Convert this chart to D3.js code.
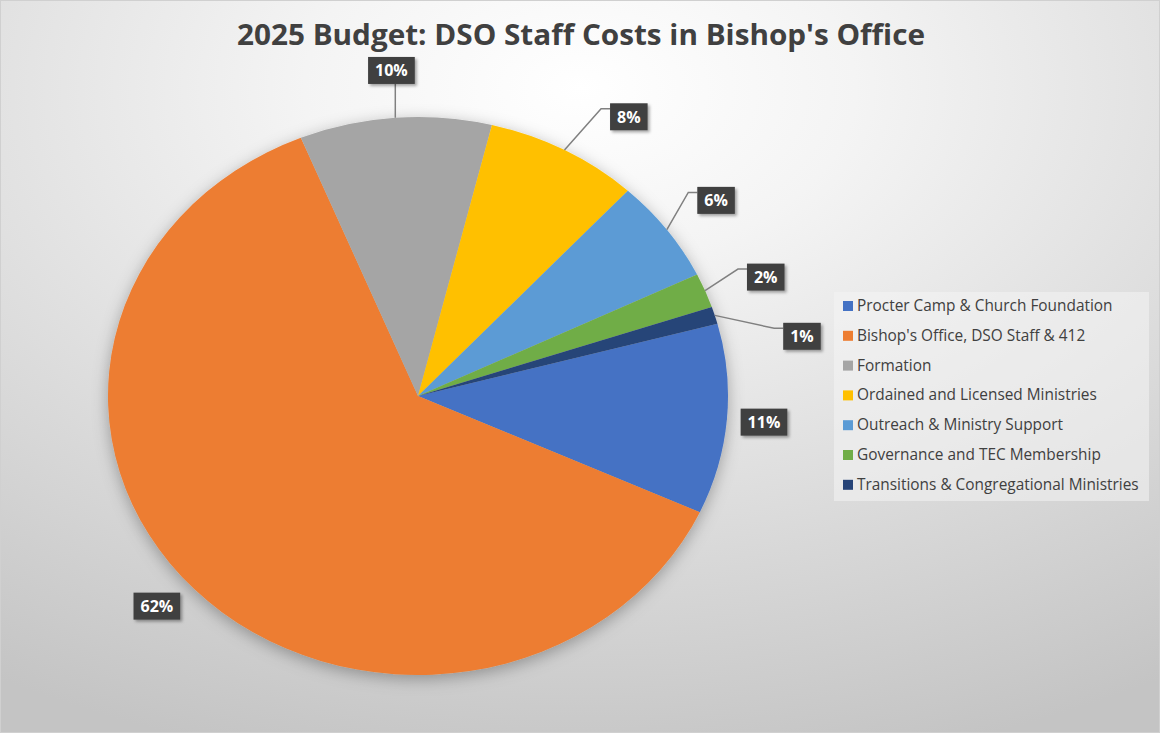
<!DOCTYPE html>
<html>
<head>
<meta charset="utf-8">
<script src="https://cdn.jsdelivr.net/npm/d3@7"></script>
<style>
  html, body { margin: 0; padding: 0; background: #fff; }
  svg { display: block; }
</style>
</head>
<body>
<div id="chart"></div>
<script>
// data
const categories = [
  "Procter Camp & Church Foundation",
  "Bishop's Office, DSO Staff & 412",
  "Formation",
  "Ordained and Licensed Ministries",
  "Outreach & Ministry Support",
  "Governance and TEC Membership",
  "Transitions & Congregational Ministries"
];
const shares = [11, 62, 10, 8, 6, 2, 1];
const colors = ["#4472C4", "#ED7D31", "#A5A5A5", "#FFC000", "#5B9BD5", "#70AD47", "#264478"];
const title = "2025 Budget: DSO Staff Costs in Bishop's Office";

// label placement: radius factor and angle nudge (degrees)
const labelLayout = [
  { f: 1.12, da: 0, leader: false },
  { f: 1.13, da: 2, leader: false },
  { f: 1.17, da: 0, leader: true },
  { f: 1.21, da: 6, leader: true },
  { f: 1.19, da: 0.5, leader: true },
  { f: 1.2, da: 1.4, leader: true },
  { f: 1.257, da: 7, leader: true }
];

const width = 1160, height = 733;
const cx = 418, cy = 396, rx = 310, ry = 279;

const svg = d3.select("#chart").append("svg")
  .attr("width", width)
  .attr("height", height);

const defs = svg.append("defs");
const grad = defs.append("radialGradient")
  .attr("id", "bg")
  .attr("cx", "50%").attr("cy", "12%").attr("r", "95%");
grad.append("stop").attr("offset", "0").attr("stop-color", "#ffffff");
grad.append("stop").attr("offset", "0.25").attr("stop-color", "#f4f4f4");
grad.append("stop").attr("offset", "1").attr("stop-color", "#c4c4c4");

const shadow = defs.append("filter").attr("id", "shadow")
  .attr("x", "-20%").attr("y", "-20%").attr("width", "140%").attr("height", "140%");
shadow.append("feDropShadow")
  .attr("dx", 0).attr("dy", 4).attr("stdDeviation", 8)
  .attr("flood-color", "#000").attr("flood-opacity", 0.3);

const boxShadow = defs.append("filter").attr("id", "boxShadow")
  .attr("x", "-30%").attr("y", "-30%").attr("width", "160%").attr("height", "160%");
boxShadow.append("feDropShadow")
  .attr("dx", 2).attr("dy", 2).attr("stdDeviation", 1.5)
  .attr("flood-color", "#000").attr("flood-opacity", 0.35);

svg.append("rect")
  .attr("x", 0.5).attr("y", 0.5)
  .attr("width", width - 1).attr("height", height - 1)
  .attr("fill", "url(#bg)")
  .attr("stroke", "#d0d0d0");

// title
svg.append("text")
  .attr("x", 581).attr("y", 45)
  .attr("text-anchor", "middle")
  .attr("font-family", "Open Sans, sans-serif")
  .attr("font-weight", "bold")
  .attr("font-size", 29)
  .attr("fill", "#404040")
  .attr("textLength", 688)
  .attr("lengthAdjust", "spacingAndGlyphs")
  .text(title);

// pie
const pie = d3.pie().sort(null).startAngle(75 * Math.PI / 180).endAngle(75 * Math.PI / 180 + 2 * Math.PI);
const arcs = pie(shares);
const arc = d3.arc().innerRadius(0).outerRadius(ry);

svg.append("g")
  .attr("filter", "url(#shadow)")
  .append("g")
  .attr("transform", `translate(${cx},${cy}) scale(${rx / ry},1)`)
  .selectAll("path")
  .data(arcs)
  .enter()
  .append("path")
  .attr("d", arc)
  .attr("fill", (d, i) => colors[i]);

// point on the ellipse
const pt = (a, f) => [cx + rx * f * Math.sin(a), cy - ry * f * Math.cos(a)];

const labels = svg.append("g");
arcs.forEach((d, i) => {
  const lay = labelLayout[i];
  const mid = (d.startAngle + d.endAngle) / 2;
  const [lx, ly] = pt(mid + lay.da * Math.PI / 180, lay.f);
  const g = labels.append("g");
  const t = g.append("text")
    .attr("x", lx).attr("y", ly + 6)
    .attr("text-anchor", "middle")
    .attr("font-family", "Open Sans, sans-serif")
    .attr("font-weight", "bold")
    .attr("font-size", 16)
    .attr("fill", "#fff")
    .text(shares[i] + "%");
  const tw = t.node().getComputedTextLength();
  const bw = tw + 14, bh = 27;
  const bx = lx - bw / 2, by = ly - bh / 2;
  g.insert("rect", "text")
    .attr("x", bx).attr("y", by)
    .attr("width", bw).attr("height", bh)
    .attr("fill", "#404040")
    .attr("filter", "url(#boxShadow)");

  if (lay.leader) {
    const [px, py] = pt(mid, 1.0);
    let pts;
    if (Math.abs(px - lx) < bw / 2) {
      pts = [[px, py], [px, by + bh]];
    } else {
      pts = [[px, py], [bx - 9, by + 5.5], [bx, by + 5.5]];
    }
    labels.insert("path", "g")
      .attr("d", d3.line()(pts))
      .attr("fill", "none")
      .attr("stroke", "#808080")
      .attr("stroke-width", 1.5);
  }
});

// legend
const legX = 834, legY = 292, rowH = 29.8;
const legend = svg.append("g");
legend.append("rect")
  .attr("x", legX).attr("y", legY)
  .attr("width", 315).attr("height", 209)
  .attr("fill", "#f4f4f4")
  .attr("opacity", 0.55);

const items = legend.selectAll("g.item")
  .data(categories)
  .enter()
  .append("g")
  .attr("class", "item")
  .attr("transform", (d, i) => `translate(${legX + 9},${legY + 14 + i * rowH})`);

items.append("rect")
  .attr("x", 0).attr("y", -5)
  .attr("width", 10).attr("height", 10)
  .attr("fill", (d, i) => colors[i]);

items.append("text")
  .attr("x", 14).attr("y", 5)
  .attr("font-family", "Open Sans, sans-serif")
  .attr("font-size", 15.4)
  .attr("fill", "#404040")
  .text(d => d);
</script>
</body>
</html>
